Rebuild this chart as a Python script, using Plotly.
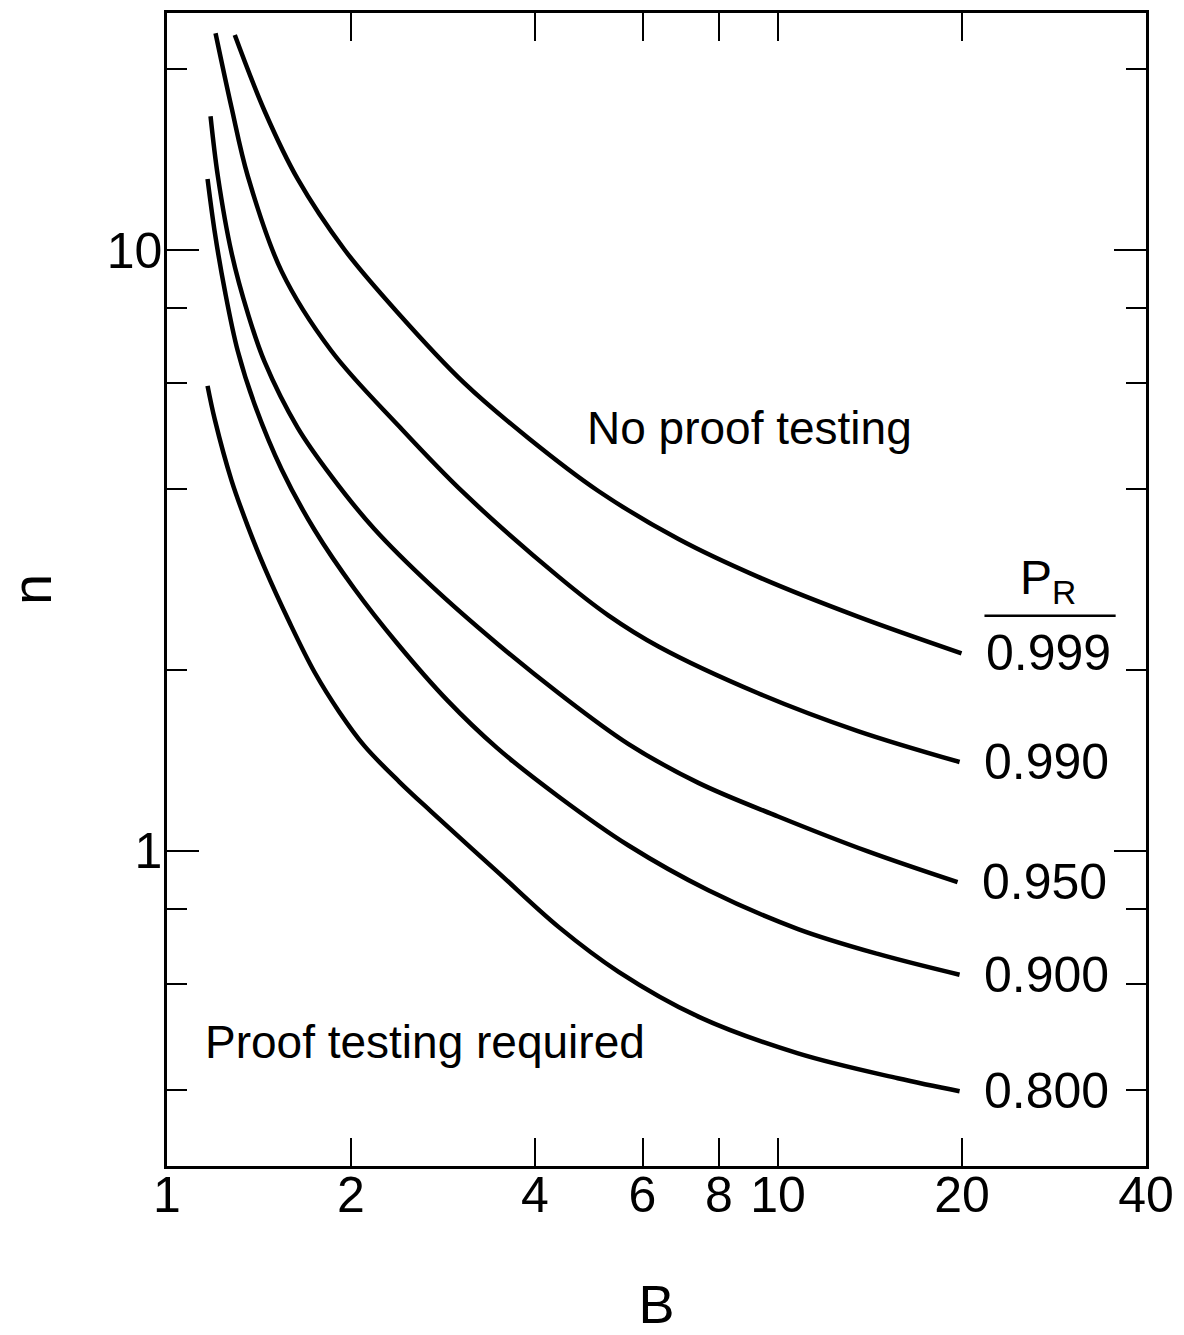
import plotly.graph_objects as go
import math

# ---- data (B on x, n on y) ----
B_999 = [1.291, 1.445, 1.636, 1.951, 2.382, 3.063, 3.910, 5.086, 6.869, 9.277, 13.51, 19.96]
n_999 = [22.79, 17.02, 13.13, 10.02, 7.88, 6.01, 4.857, 3.968, 3.304, 2.858, 2.454, 2.132]

B_990 = [1.2007, 1.275, 1.3557, 1.5403, 1.8584, 2.3995, 3.0631, 4.3766, 5.281, 6.3714, 9.277, 13.508, 19.815]
n_990 = [22.95, 17.28, 13.28, 9.214, 6.791, 5.084, 3.938, 2.858, 2.464, 2.189, 1.830, 1.583, 1.406]

B_950 = [1.1783, 1.2111, 1.275, 1.3557, 1.4447, 1.6357, 1.8584, 2.1842, 2.7062, 3.4674, 4.3766, 5.6924, 7.4051, 10.0, 14.025, 19.666]
n_950 = [16.70, 13.28, 9.905, 7.851, 6.512, 5.064, 4.201, 3.433, 2.763, 2.214, 1.830, 1.506, 1.298, 1.141, 0.998, 0.887]

B_900 = [1.1651, 1.1975, 1.2433, 1.3056, 1.3918, 1.5403, 1.7439, 2.0259, 2.3816, 2.8734, 3.4674, 4.3766, 5.6924, 7.6885, 10.78, 14.563, 19.815]
n_900 = [13.13, 10.69, 8.570, 6.791, 5.528, 4.314, 3.420, 2.731, 2.214, 1.782, 1.484, 1.231, 1.021, 0.8602, 0.7413, 0.6739, 0.6222]

B_800 = [1.1651, 1.1975, 1.275, 1.3557, 1.4447, 1.5872, 1.7439, 1.915, 2.1038, 2.3995, 2.7062, 3.4674, 4.3766, 5.4824, 7.4051, 10.78, 15.697, 19.815]
n_800 = [5.943, 5.221, 4.138, 3.472, 2.958, 2.399, 1.983, 1.702, 1.4955, 1.3033, 1.1626, 0.9248, 0.7468, 0.6293, 0.5300, 0.4604, 0.4185, 0.3982]

series_labels = ["0.999", "0.990", "0.950", "0.900", "0.800"]
series_B = [B_999, B_990, B_950, B_900, B_800]
series_n = [n_999, n_990, n_950, n_900, n_800]

x_tick_vals = [1, 2, 4, 6, 8, 10, 20, 40]
x_tick_text = ["1", "2", "4", "6", "8", "10", "20", "40"]
y_major_vals = [1, 10]
y_major_text = ["1", "10"]
y_minor_vals = [0.4, 0.6, 0.8, 2, 4, 6, 8, 20]
x_range = [1, 40]
y_range = [0.299, 24.8]

FONT = "Liberation Sans"

fig = go.Figure()
for lab, bx, ny in zip(series_labels, series_B, series_n):
    fig.add_trace(go.Scatter(
        x=bx, y=ny, mode="lines", name=lab,
        line=dict(color="black", width=4.5, shape="spline", smoothing=1.0),
        showlegend=False, hoverinfo="skip"))
    fig.add_annotation(
        x=math.log10(bx[-1]), y=math.log10(ny[-1]), xref="x", yref="y",
        text=lab, showarrow=False, xanchor="left", yanchor="middle", xshift=22,
        font=dict(family=FONT, size=50, color="black"))

# header P_R with rule
fig.add_annotation(x=0.900, y=0.480, xref="paper", yref="paper",
                   text="P<sub>R</sub>", showarrow=False,
                   xanchor="center", yanchor="bottom",
                   font=dict(family=FONT, size=48, color="black"))
fig.add_shape(type="line", xref="paper", yref="paper",
              x0=0.835, x1=0.969, y0=0.4773, y1=0.4773,
              line=dict(color="black", width=2.5))

# region texts
fig.add_annotation(x=0.4267, y=0.6405, xref="paper", yref="paper",
                   text="No proof testing", showarrow=False,
                   xanchor="left", yanchor="middle",
                   font=dict(family=FONT, size=46, color="black"))
fig.add_annotation(x=0.0367, y=0.1079, xref="paper", yref="paper",
                   text="Proof testing required", showarrow=False,
                   xanchor="left", yanchor="middle",
                   font=dict(family=FONT, size=46, color="black"))

fig.update_xaxes(
    type="log", range=[math.log10(x_range[0]), math.log10(x_range[1])],
    tickmode="array", tickvals=x_tick_vals, ticktext=x_tick_text,
    ticks="inside", ticklen=28, tickwidth=2, tickcolor="black",
    ticklabelstandoff=-17,
    showline=True, linecolor="black", linewidth=2.5, mirror="ticks",
    showgrid=False, zeroline=False,
    title=dict(text="B", standoff=64,
               font=dict(family=FONT, size=54, color="black")),
    tickfont=dict(family=FONT, size=50, color="black"))
fig.update_yaxes(
    type="log", range=[math.log10(y_range[0]), math.log10(y_range[1])],
    tickmode="array", tickvals=y_major_vals, ticktext=y_major_text,
    ticks="inside", ticklen=32, tickwidth=2, tickcolor="black",
    ticklabelstandoff=-8,
    minor=dict(tickmode="array", tickvals=y_minor_vals, ticks="inside",
               ticklen=20, tickwidth=2, tickcolor="black", showgrid=False),
    showline=True, linecolor="black", linewidth=2.5, mirror="ticks",
    showgrid=False, zeroline=False,
    title=dict(text="n", standoff=53, font=dict(family=FONT, size=56, color="black")),
    tickfont=dict(family=FONT, size=50, color="black"))

fig.update_layout(
    width=1184, height=1335,
    margin=dict(l=167, r=35, t=10, b=167, pad=0),
    plot_bgcolor="white", paper_bgcolor="white",
    showlegend=False)

fig.write_html("out.html")
